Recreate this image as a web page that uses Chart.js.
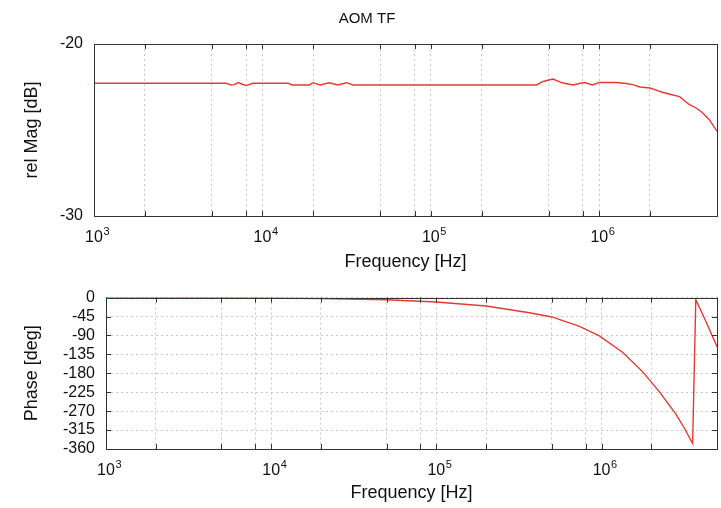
<!DOCTYPE html>
<html>
<head>
<meta charset="utf-8">
<script src="https://cdn.jsdelivr.net/npm/chart.js@4"></script>
<style>
  body { margin: 0; background: #fff; }
  #wrap { position: relative; width: 721px; height: 508px; }
  #magChart, #phaseChart { position: absolute; left: 0; }
  #magChart { top: 0; }
  #phaseChart { top: 277px; }
</style>
</head>
<body>
<div id="wrap">
  <canvas id="magChart" width="721" height="277"></canvas>
  <canvas id="phaseChart" width="721" height="231"></canvas>
</div>
<script>
// ---------------- Data ----------------
const magFreq = [1e3, 6.1e3, 6.5e3, 6.8e3, 7.2e3, 7.6e3, 8.0e3, 8.8e3, 1.42e4, 1.5e4,
                 1.9e4, 2.0e4, 2.2e4, 2.5e4, 2.8e4, 3.16e4, 3.45e4, 4.24e5, 4.64e5, 5.3e5,
                 6.1e5, 7.0e5, 7.6e5, 8.2e5, 9.1e5, 1.0e6, 1.26e6, 1.45e6, 1.6e6, 1.74e6,
                 2.0e6, 2.2e6, 2.4e6, 2.7e6, 3.0e6, 3.4e6, 3.8e6, 4.1e6, 4.5e6, 5.0e6];
const magDb = [-22.28, -22.28, -22.38, -22.36, -22.24, -22.34, -22.42, -22.28, -22.28, -22.38,
               -22.38, -22.25, -22.38, -22.25, -22.38, -22.25, -22.38, -22.38, -22.18, -22.04,
               -22.27, -22.38, -22.30, -22.24, -22.38, -22.24, -22.24, -22.30, -22.38, -22.50,
               -22.56, -22.70, -22.82, -22.95, -23.06, -23.50, -23.75, -24.00, -24.40, -25.07];

const phaseFreq = [1e3, 5e3, 1e4, 2e4, 5e4, 1e5, 2e5, 3.66e5, 5e5, 7.3e5,
                   9.7e5, 1.34e6, 1.77e6, 2.23e6, 2.82e6, 3.2e6, 3.56e6, 3.72e6, 4.3e6, 5e6];
const phaseDeg = [0, -0.5, -1, -2, -5, -10.5, -20, -36, -46, -68,
                  -91, -130, -176, -223, -277, -313, -347, -5, -58, -117];

// grid positions on the log axis (1, 2, 5, 8 per decade)
const freqGrid = [1e3, 2e3, 5e3, 8e3, 1e4, 2e4, 5e4, 8e4, 1e5, 2e5, 5e5, 8e5, 1e6, 2e6, 5e6];
const decadeTicks = [1e3, 1e4, 1e5, 1e6];
const phaseTicks = [0, -45, -90, -135, -180, -225, -270, -315, -360];

const RED = '#e53935';
const FONT = "'Liberation Sans', Arial, sans-serif";

Chart.defaults.font.family = FONT;
Chart.defaults.color = '#111';

// box around the plot plus short inward tick marks
const framePlugin = {
    id: 'frame',
    afterDraw(chart) {
        const { ctx, chartArea: a, scales } = chart;
        ctx.save();
        ctx.strokeStyle = '#333';
        ctx.lineWidth = 1;
        ctx.beginPath();
        scales.x.ticks.forEach(t => {
            const px = Math.round(scales.x.getPixelForValue(t.value)) + 0.5;
            ctx.moveTo(px, a.top); ctx.lineTo(px, a.top + 5);
            ctx.moveTo(px, a.bottom); ctx.lineTo(px, a.bottom - 5);
        });
        scales.y.ticks.forEach(t => {
            const py = Math.round(scales.y.getPixelForValue(t.value)) + 0.5;
            ctx.moveTo(a.left, py); ctx.lineTo(a.left + 5, py);
            ctx.moveTo(a.right, py); ctx.lineTo(a.right - 5, py);
        });
        ctx.stroke();
        ctx.strokeRect(Math.round(a.left) + 0.5, Math.round(a.top) + 0.5,
                       Math.round(a.right - a.left), Math.round(a.bottom - a.top));
        ctx.restore();
    }
};

// "10" with a raised exponent under each decade
const decadeLabels = {
    id: 'decadeLabels',
    afterDraw(chart) {
        const { ctx, chartArea: a, scales } = chart;
        ctx.save();
        ctx.fillStyle = '#111';
        ctx.textBaseline = 'middle';
        decadeTicks.forEach(v => {
            const px = scales.x.getPixelForValue(v);
            const y = a.bottom + 22;
            ctx.font = '16px ' + FONT;
            ctx.textAlign = 'center';
            ctx.fillText('10', px, y);
            ctx.font = '11px ' + FONT;
            ctx.textAlign = 'left';
            ctx.fillText(String(Math.round(Math.log10(v))), px + 9.5, y - 6);
        });
        ctx.restore();
    }
};

function freqAxis(axisHeight) {
    return {
        type: 'logarithmic',
        min: 1e3,
        max: 5e6,
        afterBuildTicks: scale => { scale.ticks = freqGrid.map(v => ({ value: v })); },
        afterFit: scale => {
            scale.height = axisHeight;
            scale.paddingLeft = 0;
            scale.paddingRight = 0;
        },
        ticks: { display: false },
        grid: { color: '#c8c8c8', drawTicks: false },
        border: { display: false, dash: [2, 3] },
        title: { display: true, text: 'Frequency [Hz]', font: { size: 18 } }
    };
}

function lineSet(xs, ys) {
    return {
        data: xs.map((x, i) => ({ x: x, y: ys[i] })),
        borderColor: RED,
        borderWidth: 1.4,
        pointRadius: 0,
        tension: 0,
        fill: false
    };
}

// ---------------- Magnitude ----------------
new Chart(document.getElementById('magChart'), {
    type: 'line',
    data: { datasets: [lineSet(magFreq, magDb)] },
    options: {
        responsive: false,
        animation: false,
        devicePixelRatio: 1,
        layout: { padding: { left: 17, right: 4, top: 0, bottom: 0 } },
        plugins: {
            legend: { display: false },
            tooltip: { enabled: false },
            title: {
                display: true,
                text: 'AOM TF',
                font: { size: 15, weight: 'normal' },
                color: '#111',
                padding: { top: 10, bottom: 16 }
            }
        },
        scales: {
            x: freqAxis(61),
            y: {
                min: -30,
                max: -20,
                afterFit: scale => { scale.width = 77; },
                ticks: { stepSize: 10, padding: 11, font: { size: 16 } },
                grid: { display: false, drawTicks: false },
                border: { display: false },
                title: { display: true, text: 'rel Mag [dB]', font: { size: 18 } }
            }
        }
    },
    plugins: [framePlugin, decadeLabels]
});

// ---------------- Phase ----------------
new Chart(document.getElementById('phaseChart'), {
    type: 'line',
    data: { datasets: [lineSet(phaseFreq, phaseDeg)] },
    options: {
        responsive: false,
        animation: false,
        devicePixelRatio: 1,
        layout: { padding: { left: 17, right: 4, top: 17, bottom: 0 } },
        plugins: {
            legend: { display: false },
            tooltip: { enabled: false }
        },
        scales: {
            x: freqAxis(59),
            y: {
                min: -360,
                max: 0,
                afterFit: scale => { scale.width = 89; },
                afterBuildTicks: scale => { scale.ticks = phaseTicks.map(v => ({ value: v })); },
                ticks: { autoSkip: false, padding: 11, font: { size: 16 } },
                grid: { color: '#c8c8c8', drawTicks: false },
                border: { display: false, dash: [2, 3] },
                title: { display: true, text: 'Phase [deg]', font: { size: 18 } }
            }
        }
    },
    plugins: [framePlugin, decadeLabels]
});
</script>
</body>
</html>
